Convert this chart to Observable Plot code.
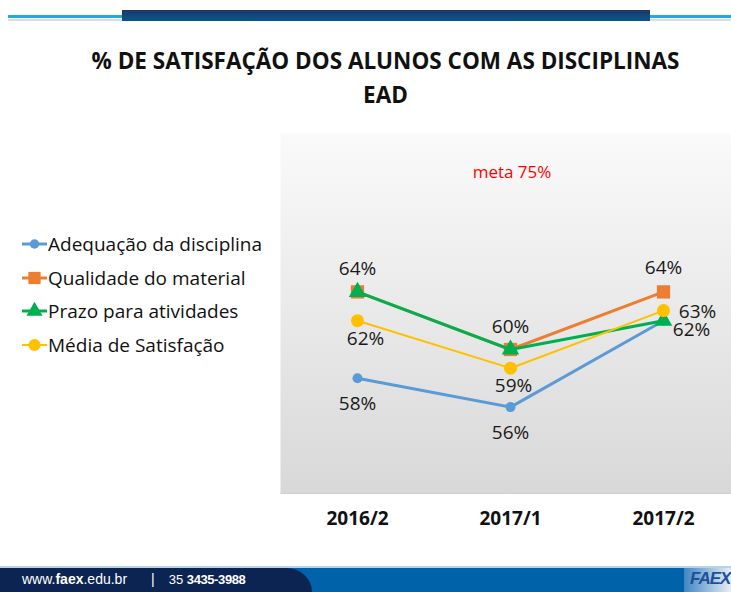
<!DOCTYPE html>
<html>
<head>
<meta charset="utf-8">
<script src="https://cdn.jsdelivr.net/npm/d3@7"></script>
<script src="https://cdn.jsdelivr.net/npm/@observablehq/plot@0.6"></script>
<style>
  html, body { margin: 0; padding: 0; background: #fff; }
  #page { position: relative; width: 731px; height: 592px; overflow: hidden; font-family: "Open Sans", sans-serif; }
  .abs { position: absolute; }
  #title { left: 0; width: 771px; top: 44px; text-align: center; font-weight: bold; font-size: 22.5px; line-height: 34px; color: #111; }
  .leg { position: absolute; left: 22px; height: 24px; display: flex; align-items: center; font-size: 19px; color: #111; white-space: nowrap; }
  .leg svg { margin-right: 1px; }
  #chart { position: absolute; left: 0; top: 0; }
</style>
</head>
<body>
<div id="page">
  <!-- header decoration -->
  <div class="abs" style="left:8px;top:15px;width:723px;height:3px;background:#2aa5de;"></div>
  <div class="abs" style="left:8px;top:19px;width:723px;height:2px;background:#cfe0ec;"></div>
  <div class="abs" style="left:122px;top:10px;width:528px;height:11px;background:linear-gradient(#1c3866,#07558f);"></div>

  <div id="title" class="abs">% DE SATISFAÇÃO DOS ALUNOS COM AS DISCIPLINAS<br>EAD</div>

  <div id="chart"></div>
  <div id="legend"></div>

  <!-- footer decoration -->
  <div class="abs" style="left:0;top:566px;width:731px;height:2px;background:#b7d3ea;"></div>
  <div class="abs" style="left:0;top:568px;width:731px;height:24px;background:#0062a8;"></div>
  <div class="abs" style="left:0;top:568px;width:312px;height:24px;background:#0b2452;border-top-right-radius:26px 24px;"></div>
  <div class="abs" style="left:22px;top:571px;font-family:'Liberation Sans',Arial,sans-serif;font-size:14px;color:#fff;white-space:nowrap;">www.<b>faex</b>.edu.br<span style="margin:0 14px 0 24px;">|</span><span style="font-size:13px;">35 <b style="letter-spacing:-0.4px;">3435-3988</b></span></div>
  <div class="abs" style="left:684px;top:568px;width:47px;height:24px;background:linear-gradient(90deg,#3f86c4,#e8eef4);"></div>
  <div class="abs" style="left:690px;top:569px;font-family:'Liberation Sans',Arial,sans-serif;font-weight:bold;font-style:italic;font-size:17px;color:#1d4f9a;letter-spacing:-1px;">FAEX</div>
</div>
<script>
// ---- data ----
const periods = ["2016/2", "2017/1", "2017/2"];
const seriesNames = ["Adequação da disciplina", "Qualidade do material", "Prazo para atividades", "Média de Satisfação"];
const adequacao = [58, 56, 62];
const qualidade = [64, 60, 64];
const prazo = [64, 60, 62];
const media = [62, 58.7, 62.7];
const seriesValues = [adequacao, qualidade, prazo, media];

// ---- styles ----
const colors = ["#5b9bd5", "#ed7d31", "#00b050", "#ffc000"];
const symbols = ["circle", "square", "triangle", "circle"];
const radii = [5, 7.5, 6.5, 6.5];
const widths = [3, 3, 3, 2];

const rows = [];
seriesNames.forEach((s, i) => periods.forEach((p, j) => rows.push({series: s, idx: i, period: p, value: seriesValues[i][j]})));

// which points get a data label, with offsets (style)
const labelOffsets = {
  "1|2016/2": [0, -23],
  "3|2016/2": [8, 18],
  "0|2016/2": [0, 26],
  "1|2017/1": [0, -23],
  "3|2017/1": [3, 18],
  "0|2017/1": [0, 26],
  "1|2017/2": [0, -24],
  "3|2017/2": [34, 1],
  "2|2017/2": [28, 9]
};

const marks = [
  Plot.frame({fill: "url(#bgGrad)", stroke: null}),
  Plot.ruleY([50], {stroke: "#d0d0d0", strokeWidth: 1}),
  Plot.axisX({tickSize: 0, tickPadding: 18, fontSize: 19, fontWeight: "bold", fill: "#111", label: null}),
  Plot.text(["meta 75%"], {frameAnchor: "top", dx: 6, dy: 32, fill: "#ff0000", fontSize: 17})
];
seriesNames.forEach((s, i) => {
  const d = rows.filter(r => r.idx === i);
  marks.push(Plot.line(d, {x: "period", y: "value", stroke: colors[i], strokeWidth: widths[i]}));
  marks.push(Plot.dot(d, {x: "period", y: "value", fill: colors[i], stroke: null, symbol: symbols[i], r: radii[i]}));
});
Object.entries(labelOffsets).forEach(([k, [dx, dy]]) => {
  const [i, p] = k.split("|");
  const d = rows.filter(r => r.idx === +i && r.period === p);
  marks.push(Plot.text(d, {x: "period", y: "value", text: r => Math.round(r.value) + "%", dx, dy, fontSize: 19, fill: "#1a1a1a"}));
});

const chart = Plot.plot({
  width: 731,
  height: 545,
  marginTop: 133,
  marginBottom: 52,
  marginLeft: 280,
  marginRight: 0,
  style: {fontFamily: "'Open Sans', sans-serif", background: "transparent", overflow: "visible"},
  x: {type: "point", domain: periods, range: [356.5, 663.5], padding: 0, axis: null},
  y: {domain: [50, 75], axis: null},
  marks
});
const defs = d3.select(chart).insert("defs", ":first-child");
const g = defs.append("linearGradient").attr("id", "bgGrad").attr("x1", 0).attr("y1", 0).attr("x2", 0).attr("y2", 1);
g.append("stop").attr("offset", "0%").attr("stop-color", "#fafafa");
g.append("stop").attr("offset", "100%").attr("stop-color", "#d8d8d8");
document.getElementById("chart").appendChild(chart);

// ---- legend ----
const legend = document.getElementById("legend");
const legendTops = [232, 266, 299, 333];
seriesNames.forEach((s, i) => {
  const div = document.createElement("div");
  div.className = "leg";
  div.style.top = legendTops[i] + "px";
  const sym = d3.symbol(symbols[i] === "square" ? d3.symbolSquare : symbols[i] === "triangle" ? d3.symbolTriangle : d3.symbolCircle, Math.PI * radii[i] * radii[i] * (i === 0 ? 0.9 : 0.85))();
  div.innerHTML = `<svg width="25" height="24"><line x1="0" x2="25" y1="12" y2="12" stroke="${colors[i]}" stroke-width="${widths[i]}"/><path d="${sym}" transform="translate(12.5,12)" fill="${colors[i]}"/></svg><span>${s}</span>`;
  legend.appendChild(div);
});
</script>
</body>
</html>
